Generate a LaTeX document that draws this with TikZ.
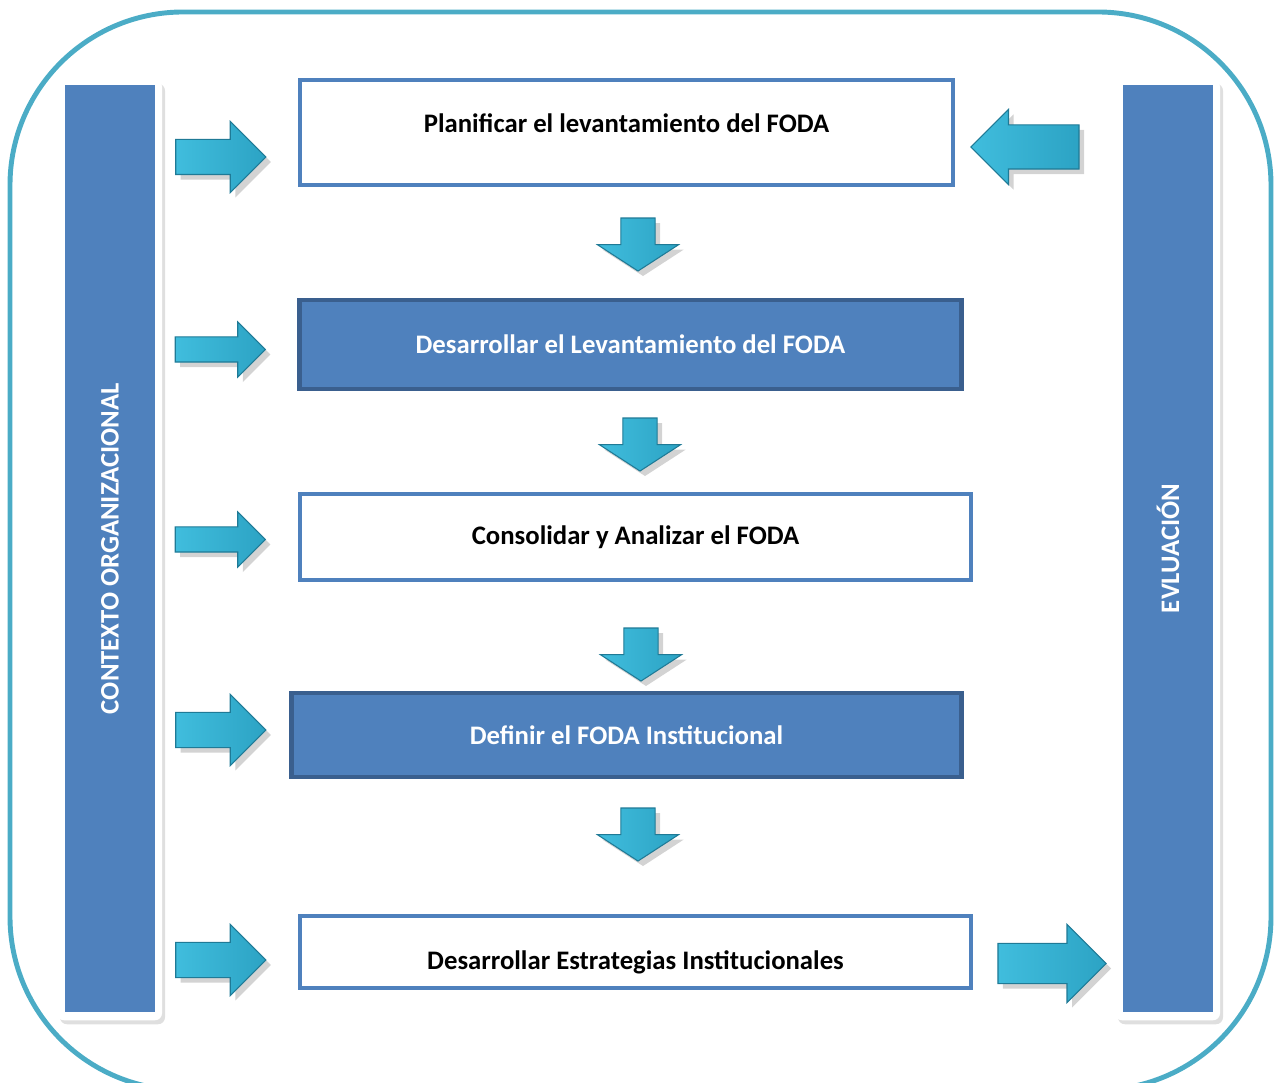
\documentclass[tikz,border=0pt]{standalone}
\usepackage{fontspec}
\setmainfont{Carlito}
\usepackage{tikz}
\usetikzlibrary{shapes.arrows,%
                shadows,positioning}

\definecolor{azul}{HTML}{4F81BD}
\definecolor{azuloscuro}{HTML}{3A5F8E}
\definecolor{marco}{HTML}{4BACC6}
\definecolor{flechaclara}{HTML}{40BDDD}
\definecolor{flechaosc}{HTML}{2CA3C4}
\definecolor{flechaborde}{HTML}{1F7A96}

\begin{document}
\begin{tikzpicture}[x=0.01cm,y=-0.01cm,
  paso/.style={draw=azul,line width=1.1pt,fill=white,inner sep=0pt,
    font=\bfseries\fontsize{7.6}{9}\selectfont},
  pasoazul/.style={paso,draw=azuloscuro,line width=1.4pt,fill=azul,text=white},
  tarjeta/.style={fill=white,draw=none,rounded corners=2pt,
    drop shadow={opacity=0.25,shadow xshift=0.3mm,shadow yshift=-0.4mm}},
  barra/.style={fill=azul,draw=none,text=white,
    font=\bfseries\fontsize{7.6}{9}\selectfont},
  flecha/.style={single arrow,draw=flechaborde,line width=0.3pt,
    left color=flechaclara,right color=flechaosc,
    drop shadow={opacity=0.35,shadow xshift=0.5mm,shadow yshift=-0.5mm}}]
\useasboundingbox (0,0) rectangle (1278,1083);
% marco exterior
\draw[marco,line width=1.4pt,rounded corners=1.73cm] (10,12) rectangle (1271,1090);
% columnas laterales
\node[tarjeta,minimum width=1.05cm,minimum height=9.4cm] (tizq) at (109.5,550) {};
\node[barra,minimum width=9.27cm,minimum height=0.9cm,rotate=90] (contexto) at (110,548.5) {CONTEXTO ORGANIZACIONAL};
\node[tarjeta,minimum width=1.05cm,minimum height=9.4cm] (tder) at (1167.5,550) {};
\node[barra,minimum width=9.27cm,minimum height=0.9cm,rotate=90] (evaluacion) at (1168,548.5) {EVLUACIÓN};
% pasos
\node[paso,minimum width=6.53cm,minimum height=1.05cm,text depth=5.5pt] (planificar) at (626.5,132.5) {Planificar el levantamiento del FODA};
\node[pasoazul,minimum width=6.61cm,minimum height=0.89cm] (desarrollar) at (630.5,344.5) {Desarrollar el Levantamiento del FODA};
\node[paso,minimum width=6.71cm,minimum height=0.86cm] (consolidar) at (635.5,537) {Consolidar y Analizar el FODA};
\node[pasoazul,minimum width=6.69cm,minimum height=0.84cm] (definir) at (626.5,735) {Definir el FODA Institucional};
\node[paso,minimum width=6.71cm,minimum height=0.72cm,text height=11pt] (estrategias) at (635.5,952) {Desarrollar Estrategias Institucionales};
% flechas hacia abajo
\node[flecha,shape border rotate=270,inner sep=0.165cm,minimum height=0.53cm,
  single arrow head extend=0.235cm,single arrow tip angle=114] (b1) at (638,239) {};
\node[flecha,shape border rotate=270,inner sep=0.165cm,minimum height=0.53cm,
  single arrow head extend=0.235cm,single arrow tip angle=114] (b2) at (640,439) {};
\node[flecha,shape border rotate=270,inner sep=0.165cm,minimum height=0.53cm,
  single arrow head extend=0.235cm,single arrow tip angle=114] (b3) at (641,649) {};
\node[flecha,shape border rotate=270,inner sep=0.165cm,minimum height=0.53cm,
  single arrow head extend=0.235cm,single arrow tip angle=114] (b4) at (638,829) {};
% flechas desde el contexto
\node[flecha,inner sep=0.17cm,minimum height=0.9cm,single arrow head extend=0.18cm] (c1) at (212,157) {};
\node[flecha,inner sep=0.12cm,minimum height=0.9cm,single arrow head extend=0.15cm] (c2) at (214,349.5) {};
\node[flecha,inner sep=0.12cm,minimum height=0.9cm,single arrow head extend=0.15cm] (c3) at (214,539.5) {};
\node[flecha,inner sep=0.17cm,minimum height=0.9cm,single arrow head extend=0.18cm] (c4) at (212,730) {};
\node[flecha,inner sep=0.17cm,minimum height=0.9cm,single arrow head extend=0.18cm] (c5) at (212,960) {};
% flechas de la evaluacion
\node[flecha,shape border rotate=180,inner sep=0.215cm,minimum height=1.08cm,single arrow head extend=0.155cm] (e1) at (1036,147) {};
\node[flecha,inner sep=0.195cm,minimum height=1.08cm,single arrow head extend=0.19cm] (e2) at (1042,963.5) {};
\end{tikzpicture}
\end{document}
